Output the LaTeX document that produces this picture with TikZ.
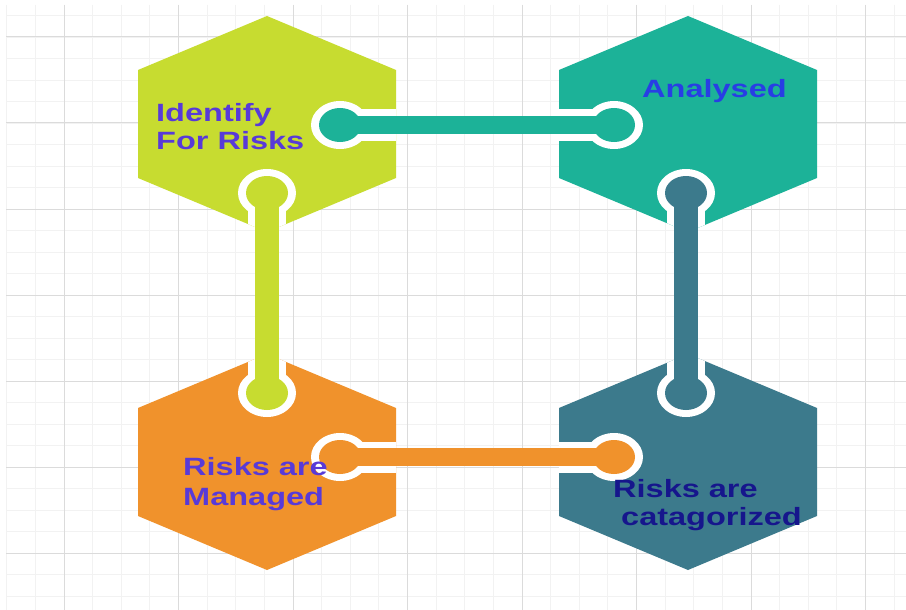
\documentclass[tikz,border=0pt]{standalone}
\usepackage{fontspec}
\newfontfamily\lblfont{Liberation Sans}[FakeStretch=1.3]
\definecolor{hexgreen}{RGB}{199,220,48}
\definecolor{hexteal}{RGB}{28,178,152}
\definecolor{hexorange}{RGB}{240,146,44}
\definecolor{hexslate}{RGB}{60,122,140}
\definecolor{txtviolet}{RGB}{88,58,216}
\definecolor{txtblue}{RGB}{40,62,228}
\definecolor{txtnavy}{RGB}{22,22,140}
\begin{document}
\begin{tikzpicture}[x=1pt,y=-1pt,
		hex/.style={insert path={([shift={(0,-108)}]#1) -- ++(129,54) -- ++(0,108)
			-- ++(-129,54) -- ++(-129,-54) -- ++(0,-108) -- cycle}},
		minorline/.style={gray!10,line width=0.8pt},
		majorline/.style={gray!28,line width=1pt},
		hbar/.style={line width=18pt},
		vbar/.style={line width=24pt},
		hhalo/.style={line width=31pt},
		vhalo/.style={line width=38pt},
		lbl/.style={font=\lblfont\bfseries\fontsize{25}{28}\selectfont,inner sep=0pt,align=left}]
	\newcommand*{\Links}{tlE/trW/hexteal/hbar/hhalo, tlS/blN/hexgreen/vbar/vhalo,
		trS/brN/hexslate/vbar/vhalo, blE/brW/hexorange/hbar/hhalo}
	\useasboundingbox (0,0) rectangle (906,610);
	\fill[white] (0,0) rectangle (906,610);
	% grid
	\foreach \k in {0,...,31}
		\draw[minorline] ({6.75+28.625*\k},5) -- ({6.75+28.625*\k},610);
	\foreach \k in {0,...,27}
		\draw[minorline] (6,{15.5+21.5*\k}) -- (906,{15.5+21.5*\k});
	\foreach \k in {0,...,7}
		\draw[majorline] ({64+114.5*\k},5) -- ({64+114.5*\k},610);
	\foreach \k in {0,...,6}
		\draw[majorline] (6,{37+86*\k}) -- (906,{37+86*\k});
	% hexagon centres
	\coordinate (tl) at (267,124);
	\coordinate (tr) at (688,124);
	\coordinate (bl) at (267,462);
	\coordinate (br) at (688,462);
	% link ends
	\coordinate (tlE) at (340,125);
	\coordinate (trW) at (614,125);
	\coordinate (tlS) at (267,193);
	\coordinate (blN) at (267,393);
	\coordinate (trS) at (686,193);
	\coordinate (brN) at (686,393);
	\coordinate (blE) at (340,457);
	\coordinate (brW) at (614,457);
	\fill[hexgreen,hex=tl];
	\fill[hexteal,hex=tr];
	\fill[hexorange,hex=bl];
	\fill[hexslate,hex=br];
	\foreach \H in {tl,tr,bl,br}
		{
			\begin{scope}
				\clip[hex=\H];
				\foreach \A/\B/\C/\W/\Hw in \Links
					{
						\draw[white,\Hw] (\A) -- (\B);
						\fill[white] (\A) ellipse [x radius=29,y radius=24]
							(\B) ellipse [x radius=29,y radius=24];
					}
			\end{scope}
		}
	\foreach \A/\B/\C/\W/\Hw in \Links
		{
			\draw[\C,\W] (\A) -- (\B);
			\fill[\C] (\A) ellipse [x radius=21,y radius=17]
				(\B) ellipse [x radius=21,y radius=17];
		}
	\node[lbl,txtviolet,anchor=north west] (identify) at (156,103) {Identify\\For Risks};
	\node[lbl,txtblue,anchor=base west] (analysed) at (642,98) {Analysed};
	\node[lbl,txtviolet,anchor=north west] (managed) at (183,457) {Risks are\\[2pt]Managed};
	\node[lbl,txtnavy,anchor=north west] (catagorized) at (613,479) {Risks are\\\hspace*{8pt}catagorized};
\end{tikzpicture}
\end{document}
